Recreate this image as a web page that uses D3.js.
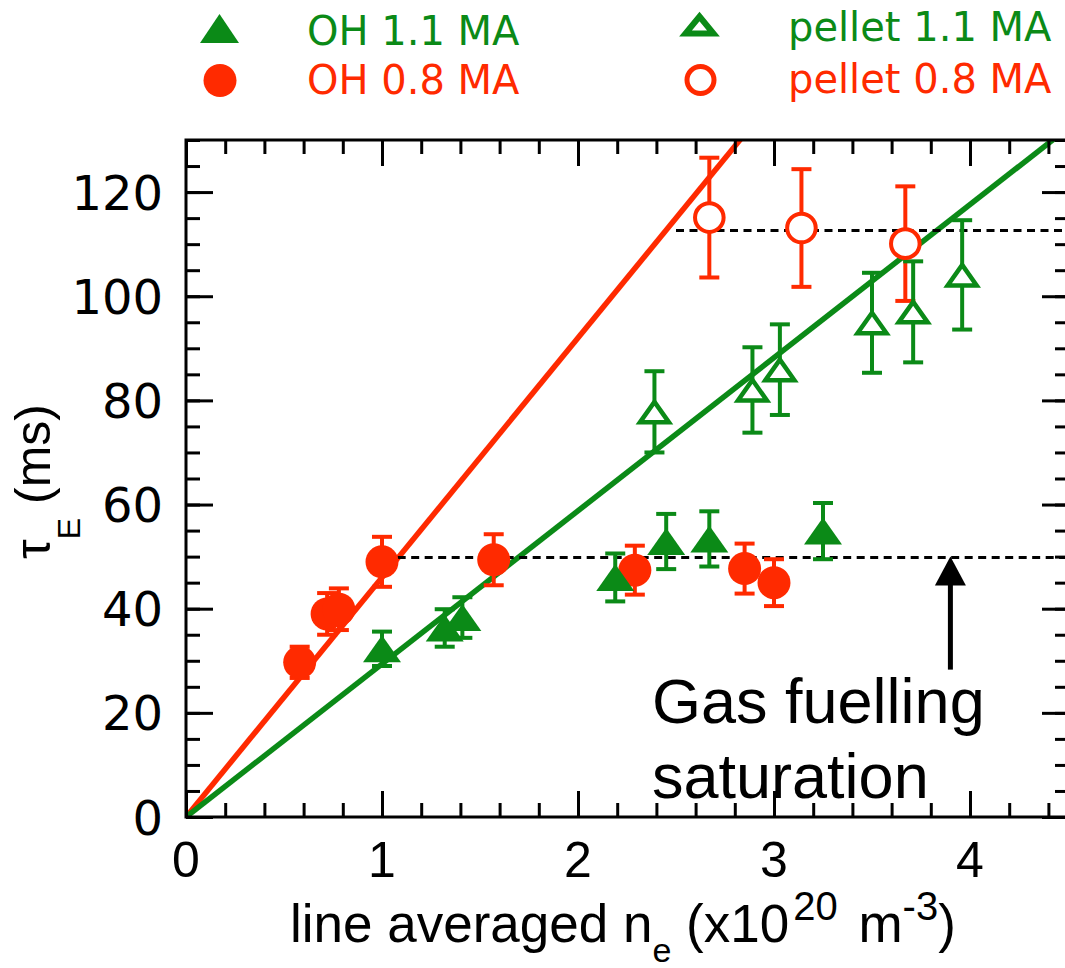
<!DOCTYPE html>
<html><head><meta charset="utf-8">
<script src="https://cdn.jsdelivr.net/npm/d3@7"></script>
<style>body{margin:0;background:#fff}svg{display:block}</style>
</head><body>
<script>
// ---- data ----
const ohHighX   = [1.00, 1.32, 1.41, 2.19, 2.45, 2.67, 3.25];
const ohHighY   = [32.3, 36.3, 38.3, 46.0, 52.9, 53.4, 54.9];
const ohHighErr = [3.3, 3.6, 3.9, 4.6, 5.3, 5.3, 5.4];

const ohLowX   = [0.58, 0.72, 0.78, 1.00, 1.57, 2.29, 2.85, 3.00];
const ohLowY   = [29.7, 39.0, 39.9, 49.0, 49.4, 47.4, 47.7, 45.0];
const ohLowErr = [3.0, 4.0, 4.0, 4.8, 4.9, 4.7, 4.8, 4.5];

const pelletHighX   = [2.39, 2.89, 3.03, 3.50, 3.71, 3.96];
const pelletHighY   = [77.8, 82.0, 85.9, 94.9, 97.0, 104.1];
const pelletHighErr = [7.8, 8.2, 8.7, 9.6, 9.7, 10.5];

const pelletLowX   = [2.67, 3.14, 3.67];
const pelletLowY   = [115.1, 113.1, 110.1];
const pelletLowErr = [11.5, 11.3, 11.0];

const fitSlopes = [46.0, 29.4];          // red (0.8 MA), green (1.1 MA)
const saturationLevels = [50, 112.7];
const saturationStart  = [1.08, 2.50];

const xTicks = [0, 1, 2, 3, 4];
const yTicks = [0, 20, 40, 60, 80, 100, 120];
const legendLabels = ["OH 1.1 MA", "OH 0.8 MA", "pellet 1.1 MA", "pellet 0.8 MA"];

// arrow annotation (data units)
const arrowX = 3.90, arrowTipY = 50, arrowBaseY = 28.3;

// ---- setup ----
const W = 1065, H = 968;
const GREEN = "#0b8a17", RED = "#ff2a00";
const svg = d3.select("body").append("svg").attr("width", W).attr("height", H);
const x = d3.scaleLinear().domain([0, 4.5]).range([186, 1068]);
const y = d3.scaleLinear().domain([0, 130]).range([817, 140]);

svg.append("clipPath").attr("id", "plot").append("rect")
  .attr("x", x(0)).attr("y", y(130)).attr("width", x(4.5) - x(0)).attr("height", y(0) - y(130));

const plot = svg.append("g").attr("clip-path", "url(#plot)");

// ---- error bars ----
function errorBars(xs, ys, es, color) {
  const g = svg.append("g").attr("stroke", color).attr("stroke-width", 4);
  xs.forEach((xv, i) => {
    const lo = ys[i] - es[i], hi = ys[i] + es[i];
    g.append("line").attr("x1", x(xv)).attr("x2", x(xv)).attr("y1", y(lo)).attr("y2", y(hi));
    g.append("line").attr("x1", x(xv) - 10).attr("x2", x(xv) + 10).attr("y1", y(lo)).attr("y2", y(lo));
    g.append("line").attr("x1", x(xv) - 10).attr("x2", x(xv) + 10).attr("y1", y(hi)).attr("y2", y(hi));
  });
}
errorBars(ohLowX, ohLowY, ohLowErr, RED);
errorBars(ohHighX, ohHighY, ohHighErr, GREEN);
errorBars(pelletLowX, pelletLowY, pelletLowErr, RED);
errorBars(pelletHighX, pelletHighY, pelletHighErr, GREEN);

// ---- markers ----
const triFilled = "M0,-13.5L19,13.5L-19,13.5Z";
const triOpen = "M0,-10L14.5,10.5L-14.5,10.5Z";

svg.append("g").selectAll("circle").data(d3.range(ohLowX.length)).join("circle")
  .attr("cx", i => x(ohLowX[i])).attr("cy", i => y(ohLowY[i])).attr("r", 16.5).attr("fill", RED);
svg.append("g").selectAll("path").data(d3.range(ohHighX.length)).join("path")
  .attr("transform", i => `translate(${x(ohHighX[i])},${y(ohHighY[i])})`)
  .attr("d", triFilled).attr("fill", GREEN);
svg.append("g").selectAll("circle").data(d3.range(pelletLowX.length)).join("circle")
  .attr("cx", i => x(pelletLowX[i])).attr("cy", i => y(pelletLowY[i])).attr("r", 14.3)
  .attr("fill", "#fff").attr("stroke", RED).attr("stroke-width", 4);
svg.append("g").selectAll("path").data(d3.range(pelletHighX.length)).join("path")
  .attr("transform", i => `translate(${x(pelletHighX[i])},${y(pelletHighY[i])})`)
  .attr("d", triOpen).attr("fill", "#fff").attr("stroke", GREEN).attr("stroke-width", 4.5)
  .attr("stroke-linejoin", "miter");

// ---- fit lines ----
[RED, GREEN].forEach((c, i) => {
  plot.append("line").attr("x1", x(0)).attr("y1", y(0))
    .attr("x2", x(4.5)).attr("y2", y(fitSlopes[i] * 4.5))
    .attr("stroke", c).attr("stroke-width", 5.5);
});

// ---- saturation dashed lines ----
saturationLevels.forEach((lv, i) => {
  plot.append("line").attr("x1", x(saturationStart[i])).attr("x2", x(4.5))
    .attr("y1", Math.round(y(lv)) + 0.5).attr("y2", Math.round(y(lv)) + 0.5)
    .attr("stroke", "#000").attr("stroke-width", 3).attr("stroke-dasharray", "8,5.5");
});

// ---- axes (ticks inward on all sides) ----
const axW = 3;
function addAxis(gen, tx, ty) {
  const g = svg.append("g").attr("transform", `translate(${tx},${ty})`).call(gen);
  g.select(".domain").remove();
  g.selectAll("line").attr("stroke", "#000").attr("stroke-width", axW);
  return g;
}
const xMinor = d3.range(0, 4.5001, 0.2);
const yMinor = d3.range(0, 130.001, 5);
// bottom
addAxis(d3.axisBottom(x).tickValues(xMinor).tickSize(-14).tickFormat(""), 0, y(0));
addAxis(d3.axisBottom(x).tickValues(xTicks).tickSize(-26).tickFormat(""), 0, y(0));
// top
addAxis(d3.axisTop(x).tickValues(xMinor).tickSize(-14).tickFormat(""), 0, y(130));
addAxis(d3.axisTop(x).tickValues(xTicks).tickSize(-26).tickFormat(""), 0, y(130));
// left
addAxis(d3.axisLeft(y).tickValues(yMinor).tickSize(-14).tickFormat(""), x(0), 0);
addAxis(d3.axisLeft(y).tickValues(yTicks).tickSize(-27).tickFormat(""), x(0), 0);
// right
addAxis(d3.axisRight(y).tickValues(yMinor).tickSize(-13).tickFormat(""), x(4.5), 0);
addAxis(d3.axisRight(y).tickValues(yTicks).tickSize(-26).tickFormat(""), x(4.5), 0);

// frame
svg.append("rect").attr("x", x(0)).attr("y", y(130)).attr("width", x(4.5) - x(0)).attr("height", y(0) - y(130))
  .attr("fill", "none").attr("stroke", "#000").attr("stroke-width", axW);

// tick labels
svg.append("g").selectAll("text").data(xTicks).join("text")
  .attr("x", d => x(d)).attr("y", 877).attr("text-anchor", "middle")
  .attr("font-family", "Liberation Sans, Arial, sans-serif").attr("font-size", 50).text(d => d);
svg.append("g").selectAll("text").data(yTicks).join("text")
  .attr("x", 163).attr("y", d => y(d) + 17.5).attr("text-anchor", "end")
  .attr("font-family", "DejaVu Sans, sans-serif").attr("font-size", 48).text(d => d);

// axis titles
const xt = svg.append("text").attr("x", 290).attr("y", 942)
  .attr("font-family", "Liberation Sans, Arial, sans-serif").attr("font-size", 53);
xt.append("tspan").text("line averaged n");
xt.append("tspan").attr("dy", 20).attr("font-size", 34).text("e");
xt.append("tspan").attr("dy", -20).text(" (x10");
xt.append("tspan").attr("dy", -22).attr("dx", 4).attr("font-size", 40).text("20");
xt.append("tspan").attr("dy", 22).attr("dx", 6).text(" m");
xt.append("tspan").attr("dy", -22).attr("font-size", 40).text("-3");
xt.append("tspan").attr("dy", 22).text(")");

const yt = svg.append("text").attr("transform", "translate(50,559) rotate(-90)")
  .attr("font-family", "Liberation Sans, Arial, sans-serif").attr("font-size", 50);
yt.append("tspan").text("τ");
yt.append("tspan").attr("dy", 30).attr("font-size", 32).text("E");
yt.append("tspan").attr("dy", -30).text(" (ms)");

// ---- annotation ----
svg.append("line").attr("x1", x(arrowX)).attr("x2", x(arrowX)).attr("y1", y(arrowBaseY)).attr("y2", y(arrowTipY) + 28)
  .attr("stroke", "#000").attr("stroke-width", 5);
svg.append("path")
  .attr("d", `M${x(arrowX)},${y(arrowTipY)}L${x(arrowX) + 15.5},${y(arrowTipY) + 29}L${x(arrowX) - 15.5},${y(arrowTipY) + 29}Z`)
  .attr("fill", "#000");
const ann = svg.append("text").attr("font-family", "Liberation Sans, Arial, sans-serif").attr("font-size", 63);
ann.append("tspan").attr("x", 652).attr("y", 723).text("Gas fuelling");
ann.append("tspan").attr("x", 652).attr("y", 798).text("saturation");

// ---- legend ----
const lg = svg.append("g").attr("font-family", "DejaVu Sans, sans-serif").attr("font-size", 40);
lg.append("path").attr("transform", "translate(219.5,28.5)").attr("d", "M0,-14.5L19.5,14.5L-19.5,14.5Z").attr("fill", GREEN);
lg.append("circle").attr("cx", 220).attr("cy", 80.5).attr("r", 16.5).attr("fill", RED);
lg.append("path").attr("transform", "translate(699.5,25)").attr("d", "M0,-8.5L14,8.5L-14,8.5Z")
  .attr("fill", "#fff").attr("stroke", GREEN).attr("stroke-width", 6);
lg.append("circle").attr("cx", 700.5).attr("cy", 80).attr("r", 13.5).attr("fill", "#fff").attr("stroke", RED).attr("stroke-width", 5);
lg.append("text").attr("x", 307).attr("y", 45).attr("fill", GREEN).text(legendLabels[0]);
lg.append("text").attr("x", 307).attr("y", 94).attr("fill", RED).text(legendLabels[1]);
lg.append("text").attr("x", 788).attr("y", 41).attr("fill", GREEN).text(legendLabels[2]);
lg.append("text").attr("x", 788).attr("y", 93).attr("fill", RED).text(legendLabels[3]);
</script>
</body></html>
